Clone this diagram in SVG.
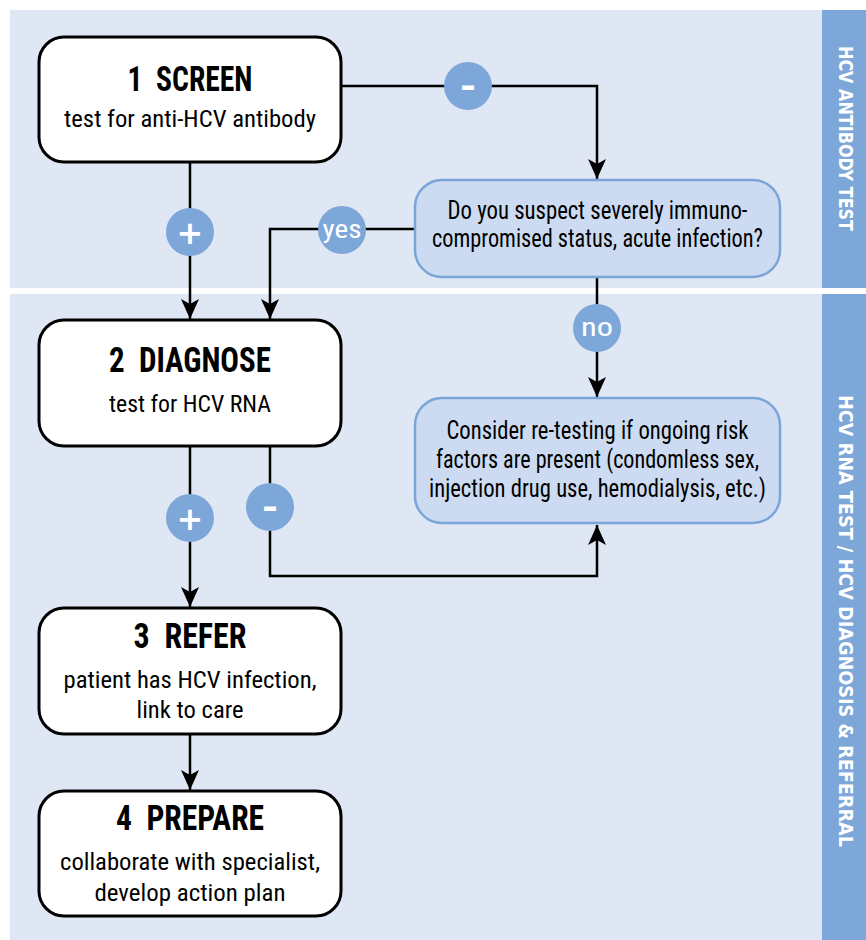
<svg xmlns="http://www.w3.org/2000/svg" width="866" height="940" viewBox="0 0 866 940">
  <defs>
    <style>
      .panel { fill: #dfe7f4; }
      .side { fill: #7da7d9; }
      .side-t { fill: #ffffff; font-family: "DejaVu Sans", "Liberation Sans", sans-serif; font-weight: bold; font-size: 20px; text-anchor: middle; }
      .node { fill: #ffffff; stroke: #000000; stroke-width: 3; }
      .dec { fill: #ccdbf1; stroke: #7aa5d8; stroke-width: 2.5; }
      .title { font-family: "Liberation Sans Narrow", "Roboto Condensed", "DejaVu Sans Condensed", "Liberation Sans", sans-serif; font-weight: bold; font-size: 35px; text-anchor: middle; fill: #000; white-space: pre; }
      .sub { font-family: "Liberation Sans Narrow", "Roboto Condensed", "DejaVu Sans Condensed", "Liberation Sans", sans-serif; font-size: 24.5px; text-anchor: middle; fill: #000; }
      .dtxt { font-family: "Liberation Sans Narrow", "Roboto Condensed", "DejaVu Sans Condensed", "Liberation Sans", sans-serif; font-size: 25px; text-anchor: middle; fill: #000; }
      .conn { fill: none; stroke: #000000; stroke-width: 2.5; }
      .badge { fill: #7da7d9; }
      .btxt { font-family: "Liberation Sans Narrow", "Roboto Condensed", "Liberation Sans", sans-serif; font-size: 25px; text-anchor: middle; fill: #ffffff; }
      .bsym { font-family: "DejaVu Sans", "Liberation Sans", sans-serif; font-weight: bold; font-size: 32px; text-anchor: middle; fill: #ffffff; }
    </style>
    <marker id="arrow" viewBox="0 0 20 18" refX="20" refY="9" markerWidth="20" markerHeight="18" markerUnits="userSpaceOnUse" orient="auto">
      <path d="M0,0 L20,9 L0,18 L5,9 z" fill="#000000"/>
    </marker>
  </defs>

  <!-- Background panels -->
  <g id="panels">
    <rect class="panel" x="10" y="10" width="812" height="278"/>
    <rect class="panel" x="10" y="294" width="812" height="646"/>
    <rect class="side" x="822" y="10" width="44" height="278"/>
    <rect class="side" x="822" y="294" width="44" height="646"/>
    <text class="side-t" transform="translate(838.5,138.5) rotate(90)" textLength="185" lengthAdjust="spacingAndGlyphs">HCV ANTIBODY TEST</text>
    <text class="side-t" transform="translate(838.5,621) rotate(90)" textLength="452" lengthAdjust="spacingAndGlyphs">HCV RNA TEST / HCV DIAGNOSIS &amp; REFERRAL</text>
  </g>

  <!-- Connectors -->
  <g id="connectors">
    <path class="conn" d="M341,86 H597 V179" marker-end="url(#arrow)"/>
    <path class="conn" d="M190,162 V319" marker-end="url(#arrow)"/>
    <path class="conn" d="M415,229 H270 V319" marker-end="url(#arrow)"/>
    <path class="conn" d="M597,277 V397" marker-end="url(#arrow)"/>
    <path class="conn" d="M190,446 V607" marker-end="url(#arrow)"/>
    <path class="conn" d="M270,446 V576 H597 V525" marker-end="url(#arrow)"/>
    <path class="conn" d="M190,734 V790" marker-end="url(#arrow)"/>
  </g>

  <!-- Badges -->
  <g id="badges">
    <g id="badge-minus-1">
      <circle class="badge" cx="468" cy="86" r="24"/>
      <text class="bsym" x="468" y="97" textLength="16" lengthAdjust="spacingAndGlyphs">-</text>
    </g>
    <g id="badge-plus-1">
      <circle class="badge" cx="190" cy="232" r="24"/>
      <text class="bsym" x="190" y="243.5">+</text>
    </g>
    <g id="badge-yes">
      <circle class="badge" cx="342" cy="230" r="24"/>
      <text class="btxt" x="342" y="238" textLength="39" lengthAdjust="spacingAndGlyphs">yes</text>
    </g>
    <g id="badge-no">
      <circle class="badge" cx="597" cy="328" r="24"/>
      <text class="btxt" x="597" y="336" textLength="32" lengthAdjust="spacingAndGlyphs">no</text>
    </g>
    <g id="badge-plus-2">
      <circle class="badge" cx="190" cy="518" r="24"/>
      <text class="bsym" x="190" y="529.5">+</text>
    </g>
    <g id="badge-minus-2">
      <circle class="badge" cx="270" cy="507" r="24"/>
      <text class="bsym" x="270" y="518" textLength="16" lengthAdjust="spacingAndGlyphs">-</text>
    </g>
  </g>

  <!-- Nodes -->
  <g id="node-screen">
    <rect class="node" x="39" y="37" width="302" height="125" rx="25"/>
    <text class="title" x="190" y="91" textLength="125" lengthAdjust="spacingAndGlyphs">1  SCREEN</text>
    <text class="sub" x="190" y="127" textLength="252" lengthAdjust="spacingAndGlyphs">test for anti-HCV antibody</text>
  </g>

  <g id="node-diagnose">
    <rect class="node" x="39" y="320" width="302" height="126" rx="25"/>
    <text class="title" x="190" y="372" textLength="162" lengthAdjust="spacingAndGlyphs">2  DIAGNOSE</text>
    <text class="sub" x="190" y="412" textLength="162" lengthAdjust="spacingAndGlyphs">test for HCV RNA</text>
  </g>

  <g id="node-refer">
    <rect class="node" x="39" y="608" width="302" height="126" rx="25"/>
    <text class="title" x="190" y="648" textLength="113" lengthAdjust="spacingAndGlyphs">3  REFER</text>
    <text class="sub" x="190" y="688" textLength="253" lengthAdjust="spacingAndGlyphs">patient has HCV infection,</text>
    <text class="sub" x="190" y="718" textLength="107" lengthAdjust="spacingAndGlyphs">link to care</text>
  </g>

  <g id="node-prepare">
    <rect class="node" x="39" y="791" width="302" height="125" rx="25"/>
    <text class="title" x="190" y="830" textLength="148" lengthAdjust="spacingAndGlyphs">4  PREPARE</text>
    <text class="sub" x="190" y="870" textLength="260" lengthAdjust="spacingAndGlyphs">collaborate with specialist,</text>
    <text class="sub" x="190" y="901" textLength="191" lengthAdjust="spacingAndGlyphs">develop action plan</text>
  </g>

  <g id="node-suspect">
    <rect class="dec" x="415" y="180" width="365" height="97" rx="27"/>
    <text class="dtxt" x="597.5" y="219" textLength="300" lengthAdjust="spacingAndGlyphs">Do you suspect severely immuno-</text>
    <text class="dtxt" x="597.5" y="247" textLength="331" lengthAdjust="spacingAndGlyphs">compromised status, acute infection?</text>
  </g>

  <g id="node-retest">
    <rect class="dec" x="415" y="398" width="365" height="125" rx="27"/>
    <text class="dtxt" x="597.5" y="439" textLength="302" lengthAdjust="spacingAndGlyphs">Consider re-testing if ongoing risk</text>
    <text class="dtxt" x="597.5" y="468" textLength="323" lengthAdjust="spacingAndGlyphs">factors are present (condomless sex,</text>
    <text class="dtxt" x="597.5" y="497" textLength="337" lengthAdjust="spacingAndGlyphs">injection drug use, hemodialysis, etc.)</text>
  </g>
</svg>
